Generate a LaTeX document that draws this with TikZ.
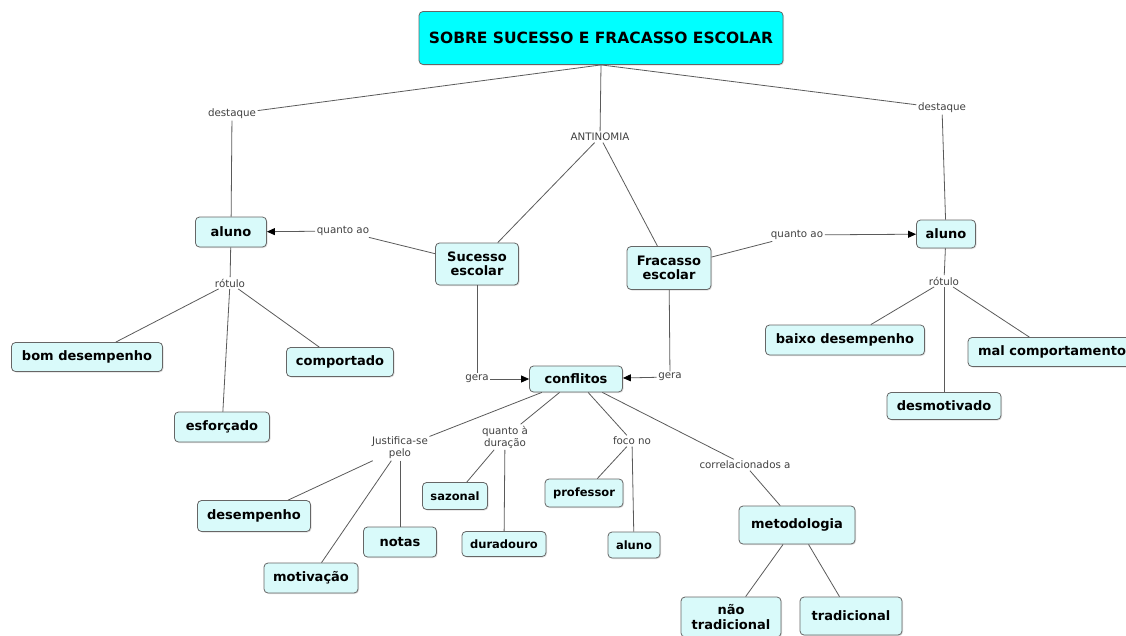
\documentclass[tikz,border=0pt]{standalone}
\usepackage{fontspec}
\setmainfont{DejaVu Sans}
\usepackage{tikz}
\usetikzlibrary{arrows.meta,shadows}
\usepackage{xcolor}

\definecolor{titlecyan}{HTML}{00FFFF}
\definecolor{conceptcyan}{HTML}{D9FAFA}
\definecolor{linkgray}{HTML}{5A5A5A}

\begin{document}
\begin{tikzpicture}[x=1pt, y=-1pt, >={Stealth[inset=0pt, length=8pt, width=7pt, color=black]},
  concept/.style={draw=black!60, fill=conceptcyan, rounded corners=4pt, line width=0.8pt,
    font=\bfseries\fontsize{13}{14.5}\selectfont, inner sep=2pt, align=center,
    drop shadow={shadow xshift=1pt, shadow yshift=-1pt, fill=black!25}},
  smallconcept/.style={concept, font=\bfseries\fontsize{11.5}{13}\selectfont},
  titlebox/.style={concept, fill=titlecyan, font=\bfseries\fontsize{15.5}{17}\selectfont},
  linkword/.style={text=black!75, font=\fontsize{10.3}{12}\selectfont, inner sep=1.5pt, align=center},
  link/.style={draw=linkgray, line width=0.8pt}]

  \useasboundingbox (0, 0) rectangle (1126, 635);

  % Define coordinates for concepts
  \node[titlebox, minimum width=364pt, minimum height=53pt] (title) at (601, 38) {SOBRE SUCESSO E FRACASSO ESCOLAR};
  \node[concept, minimum width=71pt, minimum height=30pt] (alunoL) at (231, 232) {aluno};
  \node[concept, minimum width=83pt, minimum height=42pt] (sucesso) at (477, 264) {Sucesso\\escolar};
  \node[concept, minimum width=84pt, minimum height=43pt] (fracasso) at (669, 268) {Fracasso\\escolar};
  \node[concept, minimum width=59pt, minimum height=28pt] (alunoR) at (946, 234) {aluno};
  \node[concept, minimum width=151pt, minimum height=29pt] (bom) at (87, 357) {bom desempenho};
  \node[concept, minimum width=107pt, minimum height=29pt] (comportado) at (340, 362) {comportado};
  \node[concept, minimum width=95pt, minimum height=30pt] (esforcado) at (222, 427) {esforçado};
  \node[concept, minimum width=159pt, minimum height=30pt] (baixo) at (845, 340) {baixo desempenho};
  \node[concept, minimum width=168pt, minimum height=29pt] (mal) at (1052, 352) {mal comportamento};
  \node[concept, minimum width=114pt, minimum height=27pt] (desmotivado) at (944, 406) {desmotivado};
  \node[concept, minimum width=93pt, minimum height=26pt] (conflitos) at (576, 379) {conflitos};
  \node[smallconcept, minimum width=65pt, minimum height=27pt] (sazonal) at (455, 496) {sazonal};
  \node[smallconcept, minimum width=78pt, minimum height=28pt] (professor) at (584, 493) {professor};
  \node[smallconcept, minimum width=84pt, minimum height=25pt] (duradouro) at (504, 544) {duradouro};
  \node[smallconcept, minimum width=52pt, minimum height=26pt] (alunoB) at (634, 545) {aluno};
  \node[concept, minimum width=113pt, minimum height=31pt] (desempenho) at (254, 516) {desempenho};
  \node[concept, minimum width=73pt, minimum height=30pt] (notas) at (400, 542) {notas};
  \node[concept, minimum width=94pt, minimum height=30pt] (motivacao) at (311, 578) {motivação};
  \node[concept, minimum width=116pt, minimum height=38pt] (metodologia) at (797, 525) {metodologia};
  \node[concept, minimum width=100pt, minimum height=40pt] (naotrad) at (731, 617) {não\\tradicional};
  \node[concept, minimum width=102pt, minimum height=38pt] (tradicional) at (851, 616) {tradicional};

  % Define coordinates for linking words
  \node[linkword] (destL) at (232, 114) {destaque};
  \node[linkword] (antinomia) at (600, 137) {ANTINOMIA};
  \node[linkword] (destR) at (942, 108) {destaque};
  \node[linkword] (quantoL) at (343, 231) {quanto ao};
  \node[linkword] (quantoR) at (797, 235) {quanto ao};
  \node[linkword] (rotuloL) at (230, 283) {rótulo};
  \node[linkword] (rotuloR) at (944, 281) {rótulo};
  \node[linkword] (geraL) at (477, 379) {gera};
  \node[linkword] (geraR) at (670, 377) {gera};
  \node[linkword] (justifica) at (400, 448) {Justifica-se\\pelo};
  \node[linkword] (duracao) at (505, 437) {quanto à\\duração};
  \node[linkword] (foco) at (632, 441) {foco no};
  \node[linkword] (correl) at (745, 465) {correlacionados a};

  % Draw lines between nodes
  \draw[link] (title.south) to (destL);
  \draw[link] (destL) to (alunoL);
  \draw[link] (title.south) to (antinomia);
  \draw[link] (antinomia) to (sucesso);
  \draw[link] (antinomia) to (fracasso);
  \draw[link] (title.south) to (destR);
  \draw[link] (destR) to (alunoR);
  \draw[link] (sucesso) to (quantoL);
  \draw[link, ->] (quantoL) to (alunoL);
  \draw[link] (fracasso) to (quantoR);
  \draw[link, ->] (quantoR) to (alunoR);
  \draw[link] (alunoL) to (rotuloL);
  \draw[link] (rotuloL) to (bom);
  \draw[link] (rotuloL) to (esforcado);
  \draw[link] (rotuloL) to (comportado);
  \draw[link] (alunoR) to (rotuloR);
  \draw[link] (rotuloR) to (baixo);
  \draw[link] (rotuloR) to (desmotivado);
  \draw[link] (rotuloR) to (mal);
  \draw[link] (sucesso) to (geraL);
  \draw[link, ->] (geraL) to (conflitos);
  \draw[link] (fracasso) to (geraR);
  \draw[link, ->] (geraR) to (conflitos);
  \draw[link] (conflitos) to (justifica);
  \draw[link] (justifica) to (desempenho);
  \draw[link] (justifica) to (motivacao);
  \draw[link] (justifica) to (notas);
  \draw[link] (conflitos) to (duracao);
  \draw[link] (duracao) to (sazonal);
  \draw[link] (duracao) to (duradouro);
  \draw[link] (conflitos) to (foco);
  \draw[link] (foco) to (professor);
  \draw[link] (foco) to (alunoB);
  \draw[link] (conflitos) to (correl);
  \draw[link] (correl) to (metodologia);
  \draw[link] (metodologia) to (naotrad);
  \draw[link] (metodologia) to (tradicional);
\end{tikzpicture}
\end{document}
